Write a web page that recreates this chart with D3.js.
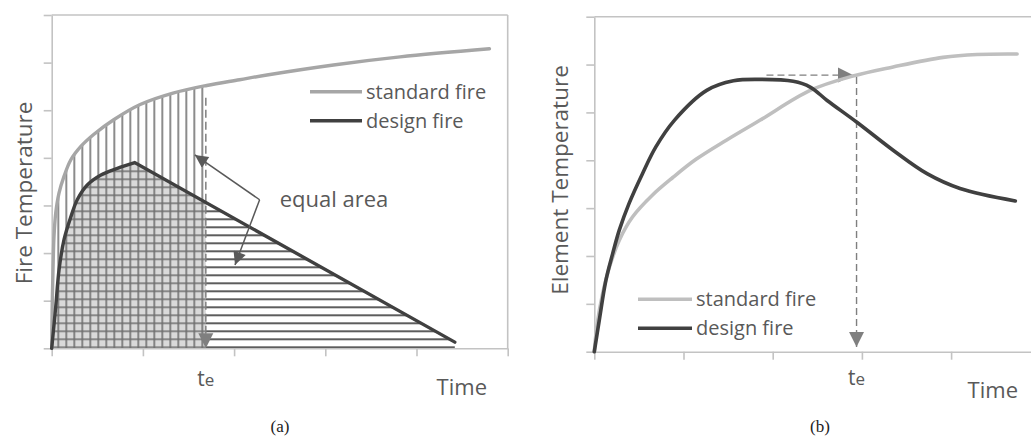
<!DOCTYPE html>
<html>
<head>
<meta charset="utf-8">
<script src="https://cdn.jsdelivr.net/npm/d3@7/dist/d3.min.js"></script>
<style>
body { margin: 0; background: #fff; }
text { font-family: "Open Sans", sans-serif; fill: #595959; }
.caption { font-family: "Liberation Serif", serif; fill: #222; }
</style>
</head>
<body>
<script>
// ---- dati pannello (a) : temperatura del fuoco
var stdFireA = [[0,0],[0.005,0.8],[0.014,1.64],[0.025,2.34],[0.044,2.84],[0.08,3.26],[0.135,3.61],[0.21,3.96],[0.32,4.24],[0.46,4.49],[0.68,4.80],[0.97,5.12],[1.33,5.36],[1.70,5.52],[2.06,5.64],[2.36,5.74],[3.09,5.95],[3.82,6.12],[4.80,6.29]];
var designRiseA = [[0,0],[0.044,0.87],[0.08,1.64],[0.135,2.28],[0.21,2.76],[0.28,3.12],[0.39,3.43],[0.54,3.64],[0.72,3.78],[0.91,3.90]];
var designDecayA = [[0.91,3.90],[4.42,0.13]];
var teA = 1.69;
var equalArrowA = {vertex: [2.28,3.12], tips: [[1.57,4.06],[2.01,1.75]], label: [2.5,2.96]};

// ---- dati pannello (b) : temperatura dell'elemento
var stdFireB = [[0,0],[0.03,0.55],[0.094,1.22],[0.17,1.77],[0.28,2.33],[0.43,2.82],[0.65,3.27],[0.88,3.64],[1.14,4.02],[1.48,4.42],[1.86,4.84],[2.42,5.46],[2.90,5.76],[3.35,5.95],[3.91,6.15],[4.29,6.21],[4.74,6.22]];
var designFireB = [[0,0],[0.056,0.66],[0.131,1.50],[0.206,2.05],[0.28,2.54],[0.39,3.10],[0.54,3.72],[0.69,4.28],[0.90,4.84],[1.26,5.46],[1.56,5.66],[1.86,5.69],[2.23,5.65],[2.42,5.53],[2.61,5.25],[2.94,4.80],[3.35,4.21],[3.73,3.72],[4.10,3.41],[4.72,3.15]];
var teB = 2.94;
var hArrowB = [[1.93,5.78],[2.90,5.78]];
var vArrowB = [[2.94,5.74],[2.94,0.10]];

// tick e etichette
var xTicks = [0,1,2,3,4,5];
var yTicks = [0,1,2,3,4,5,6,7];
var seriesNames = ["standard fire","design fire"];

//colori
var axisColor = "#c3c3c3";
var darkLine = "#404040";

var svg = d3.select("body").append("svg")
    .attr("width",1031)
    .attr("height",439);

var defs = svg.append("defs");

function marker(id, color, len, wid){
    defs.append("marker")
        .attr("id",id)
        .attr("viewBox","0 0 10 10")
        .attr("refX",10).attr("refY",5)
        .attr("markerUnits","userSpaceOnUse")
        .attr("markerWidth",len).attr("markerHeight",wid)
        .attr("orient","auto")
        .append("path").attr("d","M0,0L10,5L0,10Z")
        .attr("fill",color);
}
marker("arrGray","#7f7f7f",15,16);
marker("arrDark","#595959",16,13);

var smooth = d3.curveCatmullRom.alpha(0.5);

// ================= pannello (a) =================
var xA = d3.scaleLinear().domain([0,5]).range([51.7,507.7]);
var yA = d3.scaleLinear().domain([0,7]).range([348.3,15]);
var lineA = d3.line().x(d => xA(d[0])).y(d => yA(d[1])).curve(smooth);

var gA = svg.append("g");

// pattern linee verticali / orizzontali
function vPattern(id,color,w){
    var p = defs.append("pattern").attr("id",id).attr("patternUnits","userSpaceOnUse")
        .attr("width",8).attr("height",8).attr("x",xA(teA)-7.5).attr("y",0);
    p.append("line").attr("x1",4).attr("x2",4).attr("y1",0).attr("y2",8).attr("stroke",color).attr("stroke-width",w);
}
function hPattern(id,color,w){
    var p = defs.append("pattern").attr("id",id).attr("patternUnits","userSpaceOnUse")
        .attr("width",8).attr("height",8).attr("x",0).attr("y",yA(0)-5);
    p.append("line").attr("x1",0).attr("x2",8).attr("y1",4).attr("y2",4).attr("stroke",color).attr("stroke-width",w);
}
vPattern("vHatch","#6e6e6e",1.6);
hPattern("hGray","#7f7f7f",1.8);
hPattern("hDark","#404040",1.7);

// aree di clip
var stdAreaPath = d3.area().x(d => xA(d[0])).y0(yA(0)).y1(d => yA(d[1])).curve(smooth)(stdFireA);
var riseStr = lineA(designRiseA);
var endPt = designDecayA[1];
var designAreaPath = riseStr + "L" + xA(endPt[0]) + "," + yA(endPt[1]) + "L" + xA(endPt[0]) + "," + yA(0) + "L" + xA(0) + "," + yA(0) + "Z";

defs.append("clipPath").attr("id","clipStd").append("path").attr("d",stdAreaPath);
defs.append("clipPath").attr("id","clipDesign").append("path").attr("d",designAreaPath);
defs.append("clipPath").attr("id","clipLeft").append("rect")
    .attr("x",xA(0)-2).attr("y",0).attr("width",xA(teA)-xA(0)+2).attr("height",400);
defs.append("clipPath").attr("id","clipRight").append("rect")
    .attr("x",xA(teA)).attr("y",0).attr("width",400).attr("height",400);

// zona grigia (sotto design fire, prima di te)
var gB = gA.append("g").attr("clip-path","url(#clipLeft)").append("g").attr("clip-path","url(#clipDesign)");
gB.append("rect").attr("x",0).attr("y",0).attr("width",600).attr("height",400).attr("fill","#d9d9d9");
gB.append("rect").attr("x",0).attr("y",0).attr("width",600).attr("height",400).attr("fill","url(#hGray)");

// linee verticali sotto standard fire
gA.append("g").attr("clip-path","url(#clipLeft)").append("g").attr("clip-path","url(#clipStd)")
    .append("rect").attr("x",0).attr("y",0).attr("width",600).attr("height",400).attr("fill","url(#vHatch)");

// linee orizzontali dopo te
gA.append("g").attr("clip-path","url(#clipRight)").append("g").attr("clip-path","url(#clipDesign)")
    .append("rect").attr("x",0).attr("y",0).attr("width",600).attr("height",400).attr("fill","url(#hDark)");

// assi
function styleAxis(g){
    g.selectAll("path,line").attr("stroke",axisColor).attr("stroke-width",1.6);
}
gA.append("g").attr("transform","translate(0,"+yA(0)+")")
    .call(d3.axisBottom(xA).tickValues(xTicks).tickSize(8).tickSizeOuter(0).tickFormat(""))
    .call(styleAxis);
gA.append("g").attr("transform","translate("+xA(0)+",0)")
    .call(d3.axisLeft(yA).tickValues(yTicks).tickSize(8).tickSizeOuter(0).tickFormat(""))
    .call(styleAxis);
gA.append("line").attr("x1",xA(0)).attr("x2",xA(5)).attr("y1",yA(7)).attr("y2",yA(7))
    .attr("stroke",axisColor).attr("stroke-width",1.6);
gA.append("line").attr("x1",xA(5)).attr("x2",xA(5)).attr("y1",yA(7)).attr("y2",yA(0))
    .attr("stroke",axisColor).attr("stroke-width",1.6);

// te tratteggiata
gA.append("line")
    .attr("x1",xA(teA)).attr("x2",xA(teA)).attr("y1",yA(5.26)).attr("y2",yA(0))
    .attr("stroke","#7f7f7f").attr("stroke-width",1.5).attr("stroke-dasharray","8,4")
    .attr("marker-end","url(#arrGray)");

// curve
gA.append("path").attr("d",lineA(stdFireA))
    .attr("fill","none").attr("stroke","#a6a6a6").attr("stroke-width",3.4).attr("stroke-linecap","round");
gA.append("path").attr("d",riseStr + "L" + xA(endPt[0]) + "," + yA(endPt[1]))
    .attr("fill","none").attr("stroke",darkLine).attr("stroke-width",3.4)
    .attr("stroke-linecap","round").attr("stroke-linejoin","miter");

// frecce equal area
equalArrowA.tips.forEach(function(t){
    gA.append("line")
        .attr("x1",xA(equalArrowA.vertex[0])).attr("y1",yA(equalArrowA.vertex[1]))
        .attr("x2",xA(t[0])).attr("y2",yA(t[1]))
        .attr("stroke","#595959").attr("stroke-width",1.5)
        .attr("marker-end","url(#arrDark)");
});
gA.append("text").attr("x",xA(equalArrowA.label[0])).attr("y",yA(equalArrowA.label[1]))
    .attr("font-size",22).text("equal area");

// legenda (a)
var legA = [{name:seriesNames[0],color:"#a6a6a6",y:91.7},{name:seriesNames[1],color:darkLine,y:120.7}];
legA.forEach(function(l){
    gA.append("line").attr("x1",310).attr("x2",362).attr("y1",l.y).attr("y2",l.y)
        .attr("stroke",l.color).attr("stroke-width",3.4);
    gA.append("text").attr("x",366).attr("y",l.y+6.8).attr("font-size",20).text(l.name);
});

// etichette (a)
gA.append("text").attr("transform","translate(32,193) rotate(-90)").attr("text-anchor","middle")
    .attr("font-size",22.5).text("Fire Temperature");
var teTextA = gA.append("text").attr("x",xA(teA)).attr("y",386).attr("text-anchor","middle").attr("font-size",21);
teTextA.append("tspan").text("t");
teTextA.append("tspan").attr("font-size",17).text("e");
gA.append("text").attr("x",487).attr("y",395).attr("text-anchor","end").attr("font-size",22).text("Time");
gA.append("text").attr("class","caption").attr("x",280).attr("y",432).attr("text-anchor","middle")
    .attr("font-size",17).text("(a)");

// ================= pannello (b) =================
var xB = d3.scaleLinear().domain([0,5]).range([594.3,1040.3]);
var yB = d3.scaleLinear().domain([0,7]).range([351.7,16.7]);
var lineB = d3.line().x(d => xB(d[0])).y(d => yB(d[1])).curve(smooth);

var gBp = svg.append("g");

gBp.append("g").attr("transform","translate(0,"+yB(0)+")")
    .call(d3.axisBottom(xB).tickValues(xTicks).tickSize(8).tickSizeOuter(0).tickFormat(""))
    .call(styleAxis);
gBp.append("g").attr("transform","translate("+xB(0)+",0)")
    .call(d3.axisLeft(yB).tickValues(yTicks).tickSize(8).tickSizeOuter(0).tickFormat(""))
    .call(styleAxis);
gBp.append("line").attr("x1",xB(0)).attr("x2",xB(5)).attr("y1",yB(7)).attr("y2",yB(7))
    .attr("stroke",axisColor).attr("stroke-width",1.6);

// frecce tratteggiate
[hArrowB, vArrowB].forEach(function(a){
    gBp.append("line")
        .attr("x1",xB(a[0][0])).attr("y1",yB(a[0][1]))
        .attr("x2",xB(a[1][0])).attr("y2",yB(a[1][1]))
        .attr("stroke","#7f7f7f").attr("stroke-width",1.4).attr("stroke-dasharray","7,4")
        .attr("marker-end","url(#arrGray)");
});

gBp.append("path").attr("d",lineB(stdFireB))
    .attr("fill","none").attr("stroke","#bfbfbf").attr("stroke-width",3.6).attr("stroke-linecap","round");
gBp.append("path").attr("d",lineB(designFireB))
    .attr("fill","none").attr("stroke",darkLine).attr("stroke-width",3.6).attr("stroke-linecap","round");

// legenda (b)
var legB = [{name:seriesNames[0],color:"#bfbfbf",y:299.3},{name:seriesNames[1],color:darkLine,y:328.3}];
legB.forEach(function(l){
    gBp.append("line").attr("x1",638).attr("x2",692).attr("y1",l.y).attr("y2",l.y)
        .attr("stroke",l.color).attr("stroke-width",3.6);
    gBp.append("text").attr("x",696).attr("y",l.y+6.8).attr("font-size",20).text(l.name);
});

gBp.append("text").attr("transform","translate(568,180) rotate(-90)").attr("text-anchor","middle")
    .attr("font-size",22.5).text("Element Temperature");
var teTextB = gBp.append("text").attr("x",xB(teB)).attr("y",385).attr("text-anchor","middle").attr("font-size",21);
teTextB.append("tspan").text("t");
teTextB.append("tspan").attr("font-size",17).text("e");
gBp.append("text").attr("x",1018).attr("y",398).attr("text-anchor","end").attr("font-size",22).text("Time");
gBp.append("text").attr("class","caption").attr("x",820).attr("y",432).attr("text-anchor","middle")
    .attr("font-size",17).text("(b)");
</script>
</body>
</html>
